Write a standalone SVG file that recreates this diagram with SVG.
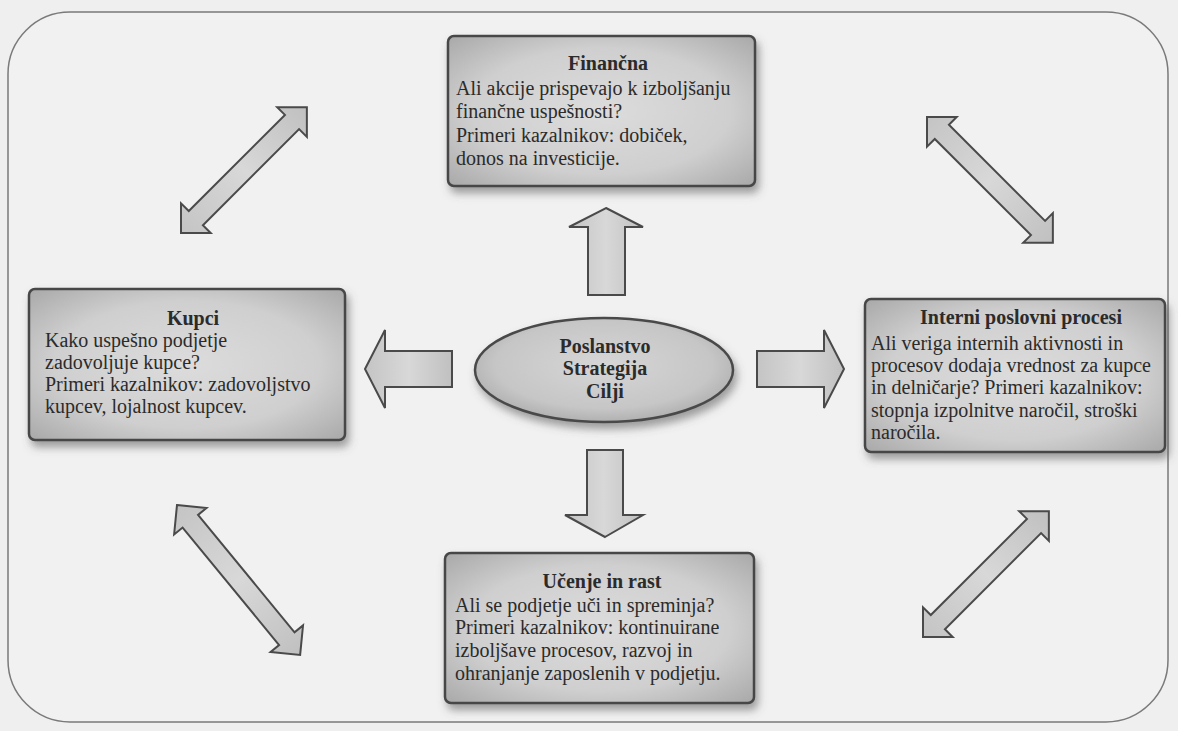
<svg xmlns="http://www.w3.org/2000/svg" width="1178" height="731" viewBox="0 0 1178 731">
  <defs>
    <radialGradient id="boxFill" cx="50%" cy="50%" r="70%">
      <stop offset="0%" stop-color="#dcdcdc"/>
      <stop offset="60%" stop-color="#cfcfcf"/>
      <stop offset="100%" stop-color="#a9a9a9"/>
    </radialGradient>
    <radialGradient id="ellFill" cx="50%" cy="45%" r="60%">
      <stop offset="0%" stop-color="#d6d6d6"/>
      <stop offset="70%" stop-color="#c6c6c6"/>
      <stop offset="100%" stop-color="#a8a8a8"/>
    </radialGradient>
    <linearGradient id="arrowFill" x1="0" y1="0" x2="1" y2="0">
      <stop offset="0%" stop-color="#c4c4c4"/>
      <stop offset="50%" stop-color="#d8d8d8"/>
      <stop offset="100%" stop-color="#c0c0c0"/>
    </linearGradient>
    <filter id="shadow" x="-10%" y="-10%" width="125%" height="130%">
      <feDropShadow dx="3" dy="6" stdDeviation="4" flood-color="#555" flood-opacity="0.55"/>
    </filter>
    <!-- double-headed arrow along the x axis, 178 long -->
    <path id="dbl" d="M0,0 L21,-21 L21,-10 L157,-10 L157,-21 L178,0 L157,21 L157,10 L21,10 L21,21 Z"/>
    <!-- longer variant, 194 long -->
    <path id="dblLong" d="M0,0 L21,-21 L21,-10 L173,-10 L173,-21 L194,0 L173,21 L173,10 L21,10 L21,21 Z"/>
  </defs>
  <style>
    .box { fill: url(#boxFill); stroke: #474747; stroke-width: 2.5; filter: url(#shadow); }
    .arrow { fill: url(#arrowFill); stroke: #4a4a4a; stroke-width: 2; stroke-linejoin: miter; }
    text { font-family: "Liberation Serif", "DejaVu Serif", serif; font-size: 20px; fill: #2b2b2b; }
    .h { font-weight: bold; text-anchor: middle; }
  </style>

  <!-- page -->
  <rect x="0" y="0" width="1178" height="731" fill="#efefef"/>
  <rect x="8" y="12" width="1160" height="710" rx="62" ry="62" fill="#f1f1f1" stroke="#7a7a7a" stroke-width="1.5"/>

  <!-- connectors -->
  <g id="connectors">
    <path class="arrow" d="M606,208 L643,227 L625,227 L625,295 L588,295 L588,227 L569,227 Z"/>
    <path class="arrow" d="M605,537 L643,515 L623,515 L623,450 L587,450 L587,515 L565,515 Z"/>
    <path class="arrow" d="M365,369 L385,330 L385,351 L452,351 L452,387 L385,387 L385,408 Z"/>
    <path class="arrow" d="M844,369 L824,330 L824,351 L757,351 L757,387 L824,387 L824,408 Z"/>
    <use href="#dbl" class="arrow" transform="translate(181,233) rotate(-45)"/>
    <use href="#dbl" class="arrow" transform="translate(927,117) rotate(45)"/>
    <use href="#dblLong" class="arrow" transform="translate(177,505) rotate(50.6)"/>
    <use href="#dbl" class="arrow" transform="translate(923,637) rotate(-45)"/>
  </g>

  <!-- centre -->
  <g id="center">
    <ellipse cx="604" cy="370" rx="129" ry="52" fill="url(#ellFill)" stroke="#4a4a4a" stroke-width="2.5" filter="url(#shadow)"/>
    <text class="h" x="605" y="353">Poslanstvo</text>
    <text class="h" x="605" y="375">Strategija</text>
    <text class="h" x="605" y="398">Cilji</text>
  </g>

  <g id="financna">
    <rect class="box" x="448" y="36" width="307" height="150" rx="6"/>
    <text class="h" x="608" y="70">Finančna</text>
    <text x="456" y="95">Ali akcije prispevajo k izboljšanju</text>
    <text x="456" y="118">finančne uspešnosti?</text>
    <text x="456" y="142">Primeri kazalnikov: dobiček,</text>
    <text x="456" y="165">donos na investicije.</text>
  </g>

  <g id="kupci">
    <rect class="box" x="29" y="289" width="316" height="151" rx="6"/>
    <text class="h" x="193" y="325">Kupci</text>
    <text x="45" y="347">Kako uspešno podjetje</text>
    <text x="45" y="369">zadovoljuje kupce?</text>
    <text x="45" y="391">Primeri kazalnikov: zadovoljstvo</text>
    <text x="45" y="413">kupcev, lojalnost kupcev.</text>
  </g>

  <g id="interni">
    <rect class="box" x="865" y="299" width="300" height="153" rx="6"/>
    <text class="h" x="1021" y="324">Interni poslovni procesi</text>
    <text x="871" y="350">Ali veriga internih aktivnosti in</text>
    <text x="871" y="372">procesov dodaja vrednost za kupce</text>
    <text x="871" y="394">in delničarje? Primeri kazalnikov:</text>
    <text x="871" y="417">stopnja izpolnitve naročil, stroški</text>
    <text x="871" y="439">naročila.</text>
  </g>

  <g id="ucenje">
    <rect class="box" x="445" y="553" width="309" height="150" rx="6"/>
    <text class="h" x="602" y="588">Učenje in rast</text>
    <text x="455" y="612">Ali se podjetje uči in spreminja?</text>
    <text x="455" y="634">Primeri kazalnikov: kontinuirane</text>
    <text x="455" y="657">izboljšave procesov, razvoj  in</text>
    <text x="455" y="680">ohranjanje zaposlenih v podjetju.</text>
  </g>
</svg>
